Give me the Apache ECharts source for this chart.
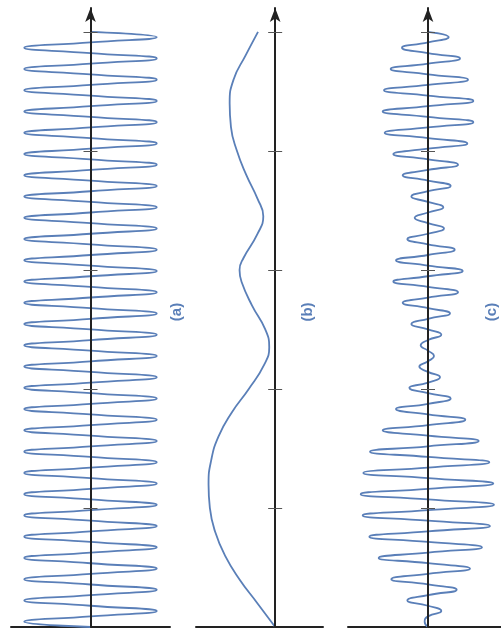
<!DOCTYPE html>
<html><head><meta charset="utf-8">
<script src="https://cdn.jsdelivr.net/npm/echarts@6/dist/echarts.min.js"></script>
<style>html,body{margin:0;padding:0;background:#fff}#c{width:501px;height:640px}</style>
</head><body><div id="c"></div>
<script>
// ---- data ----
const panelLabels = ['(a)', '(b)', '(c)'];
const timeTicks = [1, 2, 3, 4, 5];
const timeEnd = 5;
// (a) carrier: peak values of each half cycle, bottom (t=0) to top (t=5)
const aPeaks = [
  -1, 1, -1, 1, -1, 1, -1, 1, -1, 1, -1, 1, -1, 1, -1, 1, -1, 1, -1, 1,
  -1, 1, -1, 1, -1, 1, -1, 1, -1, 1, -1, 1, -1, 1, -1, 1, -1, 1, -1, 1,
  -1, 1, -1, 1, -1, 1, -1, 1, -1, 1, -1, 1, -1, 1, -1, 1
];
// (b) modulating signal: time and value
const bTime  = [0, 0.2, 0.4, 0.6, 0.8, 1.0, 1.2, 1.4, 1.6, 1.8, 2.0, 2.2, 2.35, 2.5, 2.7, 2.9, 3.0, 3.1, 3.3, 3.45, 3.6, 3.8, 4.0, 4.2, 4.4, 4.6, 4.8, 5.0];
const bValue = [0, -0.27, -0.54, -0.76, -0.91, -0.99, -1.01, -0.97, -0.86, -0.66, -0.40, -0.17, -0.09, -0.15, -0.35, -0.51, -0.54, -0.48, -0.27, -0.18, -0.27, -0.44, -0.58, -0.67, -0.69, -0.63, -0.45, -0.26];
// (c) modulated signal: peak values of each half cycle
const cPeaks = [
  -0.05, 0.20, -0.31, 0.43, -0.55, 0.63, -0.74, 0.81, -0.88, 0.93,
  -0.98, 0.99, -1.01, 0.98, -0.97, 0.92, -0.87, 0.76, -0.68, 0.56,
  -0.48, 0.34, -0.28, 0.18, -0.13, 0.09, -0.11, 0.20, -0.25, 0.33,
  -0.38, 0.45, -0.52, 0.52, -0.48, 0.40, -0.31, 0.24, -0.20, 0.23,
  -0.25, 0.34, -0.38, 0.45, -0.52, 0.59, -0.65, 0.68, -0.68, 0.68,
  -0.66, 0.60, -0.56, 0.48, -0.39, 0.31
];

// ---- build ----
function oscillation(peaks) {
  const step = timeEnd / (peaks.length * 2);
  const out = [[0, 0]];
  peaks.forEach((p, k) => {
    out.push([p, (2 * k + 1) * step]);
    out.push([0, (2 * k + 2) * step]);
  });
  return out;
}
const seriesData = [
  oscillation(aPeaks),
  bTime.map((t, i) => [bValue[i], t]),
  oscillation(cPeaks)
];

const blue = '#5a7fb8';
const axisColor = '#222';
const grids = [
  {left: 11, width: 159, top: 8, bottom: 13, outerBoundsMode: 'none'},
  {left: 196, width: 127, top: 8, bottom: 13, outerBoundsMode: 'none'},
  {left: 348, width: 160, top: 8, bottom: 13, outerBoundsMode: 'none'}
];
const xRanges = [[-1.2, 1.2], [-1.2, 0.725], [-1.2, 1.2]];
const labelPos = [[177, 312], [308, 312], [492, 312]];

const xAxis = [], yAxis = [], series = [], graphic = [];
for (let i = 0; i < 3; i++) {
  xAxis.push({
    gridIndex: i, type: 'value', min: xRanges[i][0], max: xRanges[i][1],
    axisLine: {show: true, onZero: false, lineStyle: {color: axisColor, width: 2}},
    axisTick: {show: false}, axisLabel: {show: false}, splitLine: {show: false}
  });
  yAxis.push({
    gridIndex: i, type: 'value', min: 0, max: 5.2, interval: 1, position: 'left', z: 5,
    axisLine: {show: true, onZero: true, onZeroAxisIndex: i, symbol: ['none', 'arrow'], symbolSize: [8, 14],
      lineStyle: {color: axisColor, width: 2}},
    axisTick: {show: true, customValues: timeTicks, length: 7, lineStyle: {color: '#555', width: 1}},
    axisLabel: {show: false}, splitLine: {show: false}
  });
  yAxis.push({
    gridIndex: i, type: 'value', min: 0, max: 5.2, interval: 1, position: 'left', z: 5,
    axisLine: {show: false, onZero: true, onZeroAxisIndex: i},
    axisTick: {show: true, inside: true, customValues: timeTicks, length: 7, lineStyle: {color: '#555', width: 1}},
    axisLabel: {show: false}, splitLine: {show: false}
  });
  series.push({
    type: 'line', xAxisIndex: i, yAxisIndex: 2 * i, data: seriesData[i],
    smooth: i === 1 ? 0.5 : 0.55, showSymbol: false, symbol: 'none',
    lineStyle: {color: blue, width: 1.8}, z: 2
  });
  graphic.push({
    type: 'text', x: labelPos[i][0], y: labelPos[i][1], rotation: Math.PI / 2,
    style: {text: panelLabels[i], font: 'bold 15px "Liberation Sans", Arial, sans-serif', fill: blue,
      align: 'center', verticalAlign: 'middle'}
  });
}
const chart = echarts.init(document.getElementById('c'), null, {renderer: 'canvas'});
chart.setOption({
  animation: false,
  backgroundColor: '#fff',
  grid: grids, xAxis, yAxis, series, graphic
});
</script></body></html>
